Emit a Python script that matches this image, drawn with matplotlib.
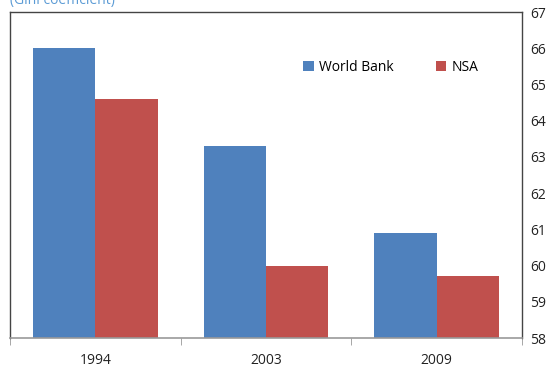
import numpy as np
import matplotlib
matplotlib.use("Agg")
from matplotlib import pyplot as plt

plt.rcParams['font.family'] = ['Open Sans', 'DejaVu Sans']

years = ['1994', '2003', '2009']
world_bank = [66.0, 63.3, 60.9]
nsa = [64.6, 60.0, 59.7]
series_names = ['World Bank', 'NSA']
yticks = list(range(58, 68))

fig = plt.figure(figsize=(5.53, 3.68), dpi=100)
ax = fig.add_axes([10 / 553, 1 - 338 / 368, 512 / 553, 326 / 368])

x = np.arange(len(years))
w = 0.365
ax.bar(x - w / 2, world_bank, w, color='#4F81BD', label=series_names[0])
ax.bar(x + w / 2, nsa, w, color='#C0504D', label=series_names[1])

ax.set_xlim(-0.5, 2.5)
ax.set_ylim(58, 67)
ax.set_yticks(yticks)
ax.yaxis.tick_right()
ax.tick_params(axis='y', length=0, labelsize=10, pad=6, colors='#222222')

# category labels centred, tick marks at the boundaries
ax.set_xticks(x)
ax.set_xticklabels(years)
ax.tick_params(axis='x', which='major', length=0, labelsize=10, pad=11, colors='#222222')
ax.set_xticks([-0.5, 0.5, 1.5, 2.5], minor=True)
ax.tick_params(axis='x', which='minor', length=5, color='#999999', direction='out')

for side in ['left', 'top', 'right']:
    ax.spines[side].set_color('#444444')
    ax.spines[side].set_linewidth(1.0)
ax.spines['bottom'].set_color('#999999')
ax.spines['bottom'].set_linewidth(1.2)

ax.legend(loc='center right', bbox_to_anchor=(0.915, 0.83), ncol=2, frameon=False,
          fontsize=10, handlelength=0.75, handleheight=0.75, columnspacing=3.0,
          handletextpad=0.4, borderaxespad=0, borderpad=0)

fig.text(10 / 553, 1 - 4 / 368, '(Gini coefficient)', color='#5B9BD5', fontsize=10,
         ha='left', va='baseline')

fig.savefig('out.png', dpi=100)
